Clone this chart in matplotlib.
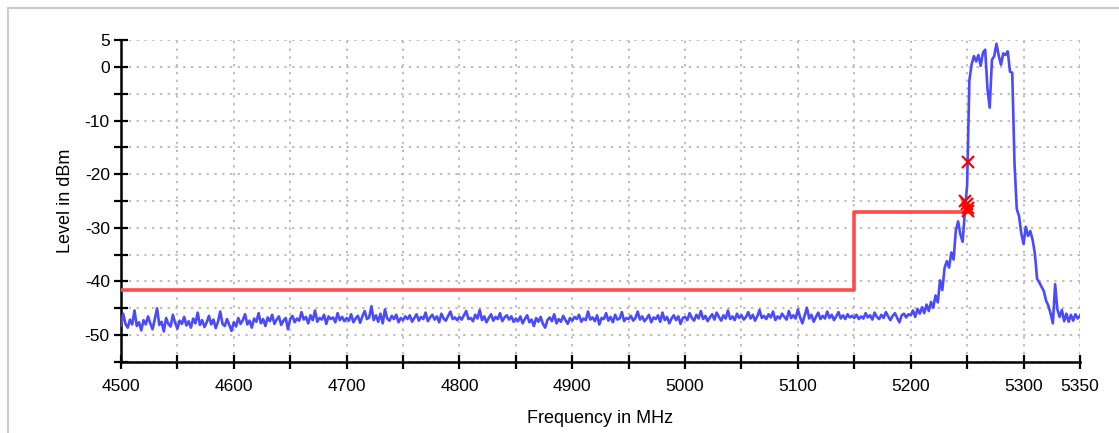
import numpy as np
import matplotlib
matplotlib.use("Agg")
import matplotlib.pyplot as plt
from matplotlib.lines import Line2D

plt.rcParams['font.family'] = ['Liberation Sans', 'DejaVu Sans']

# measured trace, 2 MHz steps from 4500 to 5350 MHz
freq_start = 4500
freq_step = 2
level = [
    -48.2, -46.0, -47.9, -48.6, -47.1, -48.0, -45.4, -48.3, -47.6, -49.1, -47.2, -48.0, -46.5, -47.8, -48.9, -47.0, -45.0, -48.1, -47.5, -49.3, -46.8, -47.9, -48.4, -46.2, -47.7,
    -48.8, -47.3, -47.9, -46.6, -48.2, -47.4, -48.6, -46.9, -47.8, -45.8, -48.1, -47.2, -48.5, -47.6, -46.4, -48.0, -47.1, -48.7, -47.5, -45.6, -47.9, -48.3, -47.0, -48.1, -49.2,
    -47.6, -48.4, -46.8, -47.9, -47.2, -46.1, -48.0, -47.3, -48.6, -46.9, -47.5, -45.9, -47.8, -47.0, -48.3, -46.7, -47.4, -46.2, -47.9, -47.1, -46.5, -48.1, -47.3, -46.8, -48.9,
    -47.0, -46.4, -47.6, -46.9, -47.3, -45.7, -47.1, -46.6, -47.8, -46.3, -47.2, -45.4, -47.5, -46.8, -47.1, -46.2, -47.9, -46.5, -47.0, -46.7, -47.6, -45.9, -47.2, -46.6, -47.4,
    -46.8, -47.3, -46.1, -47.6, -46.9, -46.4, -47.7, -46.5, -45.5, -47.0, -46.7, -44.6, -47.2, -46.3, -47.5, -46.0, -47.8, -45.2, -46.9, -47.3, -46.4, -47.0, -46.2, -47.6, -46.8,
    -47.2, -46.5, -47.0, -46.3, -47.5, -46.8, -46.1, -47.3, -46.6, -47.0, -45.8, -47.4, -46.7, -46.2, -47.1, -46.5, -47.6, -46.0, -46.9, -47.3, -46.4, -45.6, -47.0, -46.7, -47.2,
    -46.6, -47.1, -46.3, -45.5, -47.0, -46.8, -47.4, -46.2, -46.9, -45.3, -47.2, -46.5, -47.6, -46.8, -46.1, -47.3, -46.6, -47.0, -45.9, -47.4, -46.7, -46.3, -47.1, -46.5, -47.5,
    -46.9, -47.4, -46.5, -47.8, -47.0, -46.3, -47.6, -47.1, -48.3, -46.8, -47.5, -46.6, -47.9, -48.6, -47.2, -46.7, -47.4, -46.1, -47.8, -47.0, -47.5, -46.4, -47.2, -47.9, -46.8,
    -47.3, -46.6, -47.0, -46.2, -47.5, -46.9, -47.2, -45.6, -47.1, -46.7, -47.4, -46.3, -48.0, -46.8, -47.0, -45.9, -47.3, -46.6, -47.6, -46.2, -47.1, -46.9, -45.7, -47.4, -46.8,
    -47.0, -46.4, -47.3, -46.8, -45.6, -47.1, -46.5, -47.4, -46.9, -46.2, -47.6, -46.7, -47.0, -46.3, -47.5, -45.8, -47.2, -46.6, -47.8, -46.9, -46.3, -47.2, -46.5, -47.9, -46.8,
    -46.6, -47.2, -45.9, -46.8, -47.3, -46.2, -46.9, -45.5, -47.0, -46.4, -47.4, -46.7, -46.1, -47.1, -45.8, -46.6, -47.3, -46.3, -46.9, -45.4, -47.0, -46.5, -47.2, -46.0, -46.8,
    -46.3, -47.1, -46.6, -45.7, -46.9, -46.2, -47.3, -46.5, -45.3, -46.8, -46.4, -47.0, -46.1, -46.7, -45.6, -47.2, -46.5, -46.9, -46.0, -46.6, -47.1, -45.5, -46.8, -46.3, -46.9,
    -45.2, -46.7, -47.8, -46.3, -44.9, -46.9, -46.2, -47.5, -46.6, -45.8, -47.0, -46.4, -46.9, -45.6, -46.8, -46.2, -47.2, -46.5, -45.7, -46.9, -46.3, -47.0, -46.1, -46.7, -46.4,
    -46.8, -46.2, -47.0, -46.5, -46.9, -45.9, -46.7, -46.3, -47.1, -45.8, -46.6, -47.0, -46.2, -46.8, -45.7, -46.5, -47.2, -46.4, -45.9, -46.8, -47.6, -46.3, -46.0, -46.7, -46.1,
    -46.3, -45.4, -46.6, -45.1, -46.0, -44.8, -45.9, -44.3, -45.5, -43.8, -44.9, -42.6, -43.9, -39.8, -41.6, -37.5, -36.2, -37.4, -34.6, -35.9, -30.5, -28.8, -31.2, -32.6, -27.0,
    -22.0, -2.5, 0.5, 2.0, 1.0, 2.2, 0.2, 2.6, 3.2, -4.0, -7.6, 1.3, 2.0, 4.3, 2.1, 0.4, 2.5, 2.2, 2.9, -0.9, -1.1, -18.0, -26.5, -27.8, -31.0,
    -33.0, -29.8, -31.5, -30.6, -32.2, -34.7, -39.5, -40.2, -41.0, -41.8, -43.6, -44.5, -46.0, -47.8, -40.5, -45.2, -46.6, -45.3, -47.4, -46.0, -47.5, -46.2, -47.3, -46.1, -46.9,
    -46.4,
]

# limit line (step)
limit_freq = [4500, 5150, 5150, 5250]
limit_level = [-41.5, -41.5, -27.0, -27.0]

# peak markers
marker_freq = [5251.0, 5248.2, 5249.7, 5250.5, 5251.0]
marker_level = [-17.8, -25.0, -25.6, -26.3, -26.8]

xtick_pos = list(range(4500, 5351, 50))
xtick_text = ['4500', '', '4600', '', '4700', '', '4800', '', '4900', '', '5000', '',
              '5100', '', '5200', '', '5300', '5350']
ytick_pos = list(range(-55, 6, 5))
ytick_text = ['', '-50', '', '-40', '', '-30', '', '-20', '', '-10', '', '0', '5']

freq = freq_start + freq_step * np.arange(len(level))

fig = plt.figure(figsize=(11.19, 4.33), dpi=100)
ax = fig.add_axes([0.1081, 0.164, 0.9651 - 0.1081, 0.9076 - 0.164])

ax.plot(freq, level, color='#4a4aff', lw=1.9, zorder=3)
ax.plot(limit_freq, limit_level, color='#ff4b4b', lw=2.6, zorder=4)
ax.plot(marker_freq, marker_level, 'x', color='#ff0000', ms=9, mew=1.6, zorder=5)

ax.set_xlim(4500, 5350)
ax.set_ylim(-55, 5)
ax.set_xticks(xtick_pos)
ax.set_xticklabels(xtick_text)
ax.set_yticks(ytick_pos)
ax.set_yticklabels(ytick_text)
ax.tick_params(axis='both', direction='inout', length=10, width=1.6, labelsize=12.5, colors='black')
ax.tick_params(axis='x', pad=7)
ax.tick_params(axis='y', pad=3)

ax.grid(True, color='#bdbdbd', linestyle=(0, (1.2, 2.8)), lw=1.4, zorder=0)
for s in ['top', 'right']:
    ax.spines[s].set_visible(False)
for s in ['left', 'bottom']:
    ax.spines[s].set_linewidth(1.8)

ax.set_xlabel('Frequency in MHz', fontsize=13, labelpad=12)
ax.set_ylabel('Level in dBm', fontsize=13, labelpad=8)

# light frame of the surrounding panel
fig.add_artist(Line2D([8 / 1119, 8 / 1119], [0, 1 - 8 / 433], color='#cccccc', lw=1.5))
fig.add_artist(Line2D([8 / 1119, 1], [1 - 8 / 433, 1 - 8 / 433], color='#cccccc', lw=1.5))

fig.savefig('out.png', dpi=100)
